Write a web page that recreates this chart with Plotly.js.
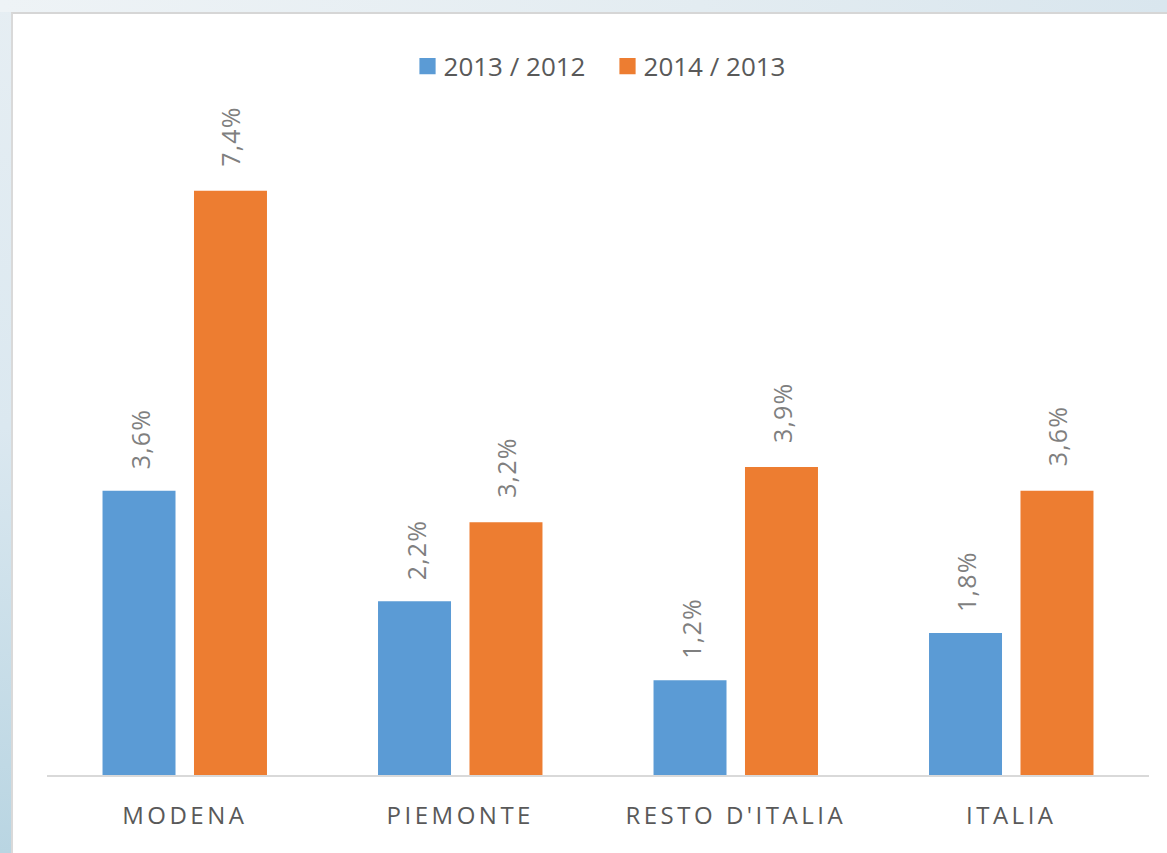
<!DOCTYPE html>
<html>
<head>
<meta charset="utf-8">
<script src="https://cdn.plot.ly/plotly-3.0.1.min.js"></script>
<style>
  html, body { margin: 0; padding: 0; width: 1167px; height: 853px; overflow: hidden; }
  body {
    background: linear-gradient(180deg, #e6eef3 0%, #dbe8f0 50%, #b9d5e2 100%);
    position: relative;
  }
  #topstrip {
    position: absolute; left: 0; top: 0; width: 1167px; height: 12px;
    background: linear-gradient(90deg, #eef3f6 0%, #e3ecf1 60%, #d9e6ee 100%);
  }
  #chart {
    position: absolute; left: 11px; top: 12px; width: 1156px; height: 841px;
    background: #ffffff;
    border-top: 2px solid #d6d6d6; border-left: 2px solid #d9d9d9;
    box-sizing: border-box;
  }
  .xtick text { letter-spacing: 3.5px; }
  .annotation-text { letter-spacing: 1.2px; }
  .legendpoints path { transform: translate(24px, 0px) scale(1.35); }
</style>
</head>
<body>
<div id="topstrip"></div>
<div id="chart"></div>
<script>
// ---- data ----
const categories = ["MODENA", "PIEMONTE", "RESTO D'ITALIA", "ITALIA"];
const seriesNames = ["2013 / 2012", "2014 / 2013"];
const values2013 = [3.6, 2.2, 1.2, 1.8];
const values2014 = [7.4, 3.2, 3.9, 3.6];
const labels2013 = ["3,6%", "2,2%", "1,2%", "1,8%"];
const labels2014 = ["7,4%", "3,2%", "3,9%", "3,6%"];

// ---- styling ----
const BLUE = "#5B9BD5";
const ORANGE = "#ED7D31";
const FONT = "'Open Sans', 'Noto Sans', sans-serif";
const SHIFT = 45.75;

const traces = [
  { type: "bar", name: seriesNames[0], x: categories, y: values2013,
    marker: { color: BLUE }, hoverinfo: "skip" },
  { type: "bar", name: seriesNames[1], x: categories, y: values2014,
    marker: { color: ORANGE }, hoverinfo: "skip" }
];

const annotations = [];
categories.forEach((c, i) => {
  annotations.push({ x: c, y: values2013[i], xref: "x", yref: "y", text: labels2013[i],
    showarrow: false, textangle: -90, xanchor: "center", yanchor: "bottom",
    xshift: -SHIFT + 1, yshift: 19, font: { family: FONT, size: 25, color: "#7f7f7f" } });
  annotations.push({ x: c, y: values2014[i], xref: "x", yref: "y", text: labels2014[i],
    showarrow: false, textangle: -90, xanchor: "center", yanchor: "bottom",
    xshift: SHIFT, yshift: 22, font: { family: FONT, size: 25, color: "#7f7f7f" } });
});

const layout = {
  width: 1152, height: 839,
  margin: { l: 34, r: 16, t: 86, b: 78, pad: 0 },
  paper_bgcolor: "rgba(0,0,0,0)",
  plot_bgcolor: "rgba(0,0,0,0)",
  barmode: "group",
  bargap: 0.336,
  bargroupgap: 0.202,
  showlegend: true,
  legend: {
    orientation: "h", x: 0.505, xanchor: "center", y: 1.05, yanchor: "middle",
    font: { family: FONT, size: 26, color: "#595959" },
    entrywidth: 155, entrywidthmode: "pixels",
    traceorder: "normal", itemclick: false, itemdoubleclick: false
  },
  xaxis: {
    type: "category",
    showline: true, linecolor: "#d9d9d9", linewidth: 2,
    ticks: "", showgrid: false, zeroline: false,
    tickfont: { family: FONT, size: 24, color: "#595959" },
    ticklabelstandoff: 18,
    fixedrange: true
  },
  yaxis: {
    range: [0, 8.55],
    showgrid: false, zeroline: false, showline: false, showticklabels: false,
    ticks: "", fixedrange: true
  },
  annotations: annotations
};

Plotly.newPlot("chart", traces, layout, { displayModeBar: false, staticPlot: true });
</script>
</body>
</html>
